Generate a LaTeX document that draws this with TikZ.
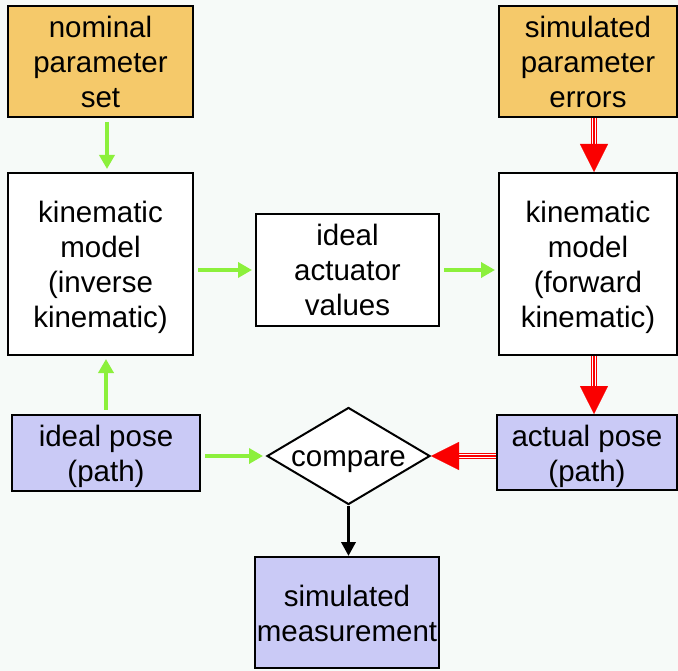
\documentclass[tikz,border=0pt]{standalone}
\usepackage{fontspec}
\setmainfont{Liberation Sans}
\usetikzlibrary{arrows.meta,shapes.geometric}
\definecolor{bgpaper}{RGB}{246,250,248}
\definecolor{paramfill}{RGB}{245,201,106}
\definecolor{posefill}{RGB}{202,202,246}
\definecolor{flowgreen}{RGB}{140,240,60}
\definecolor{errred}{RGB}{250,0,0}
% centred block of lines, set a little below the middle of its box
\newcommand{\lbl}[1]{\raisebox{-4pt}[\height][\depth]{\begin{tabular}{@{}c@{}}#1\end{tabular}}}
\tikzset{
  labelfont/.style={font=\fontsize{29.5}{35}\selectfont},
  box/.style={draw=black, line width=2pt, rectangle, inner sep=0pt, labelfont},
  param/.style={box, fill=paramfill},
  model/.style={box, fill=white},
  pose/.style={box, fill=posefill},
  greenflow/.style={draw=flowgreen, line width=4.5pt, shorten <=4pt, shorten >=3pt,
    -{Triangle[width=15pt,length=14pt]}},
  blackflow/.style={draw=black, line width=3.5pt,
    -{Triangle[width=14pt,length=14pt]}},
  redtrack/.style={draw=errred, line width=1.1pt, shorten >=26pt},
  redtrackouter/.style={redtrack, double=white, double distance=4.6pt},
  redhead/.style={draw=errred, line width=0.1pt, -{Triangle[width=28pt,length=28pt]}}
}
\newcommand{\errorflow}[2]{%
  \draw[redtrackouter] #1 -- #2;
  \draw[redtrack] #1 -- #2;
  \draw[redhead] #1 -- #2;}
\begin{document}
\begin{tikzpicture}[x=1pt,y=-1pt]
  \fill[bgpaper] (0,0) rectangle (678,671);
  \useasboundingbox (0,0) rectangle (678,671);

  % parameter inputs
  \node[param, minimum width=185pt, minimum height=111pt] (nom) at (100.5,61.5)
    {\lbl{nominal\\parameter\\set}};
  \node[param, minimum width=178pt, minimum height=111pt] (err) at (588,61.5)
    {\lbl{simulated\\parameter\\errors}};

  % kinematic models and actuator values
  \node[model, minimum width=185pt, minimum height=182pt] (inv) at (100.5,264)
    {\lbl{kinematic\\model\\(inverse\\kinematic)}};
  \node[model, minimum width=183pt, minimum height=112pt] (act) at (347.5,270)
    {\lbl{ideal\\actuator\\values}};
  \node[model, minimum width=178pt, minimum height=182pt] (fwd) at (588,264)
    {\lbl{kinematic\\model\\(forward\\kinematic)}};

  % poses and comparison
  \node[pose, minimum width=188pt, minimum height=76pt] (ipose) at (106,452.5)
    {\lbl{ideal pose\\(path)}};
  \node[pose, minimum width=180pt, minimum height=75pt] (apose) at (587,452.5)
    {\lbl{actual pose\\(path)}};
  \node[diamond, draw=black, line width=2pt, fill=white, inner sep=0pt, aspect=1.7,
    minimum width=163pt, minimum height=97pt, labelfont]
    (cmp) at (348.5,456) {\raisebox{-10.5pt}[0pt][0pt]{compare}};
  \node[pose, minimum width=184pt, minimum height=111pt] (meas) at (347,612.5)
    {\lbl{simulated\\measurement}};

  % ideal data flow
  \draw[greenflow] ([xshift=6.5pt]nom.south) -- ([xshift=6.5pt]inv.north);
  \draw[greenflow] (inv.east |- act.west) -- (act.west);
  \draw[greenflow] (act.east) -- (act.east -| fwd.west);
  \draw[greenflow] (ipose.north) -- (ipose.north |- inv.south);
  \draw[greenflow] (ipose.east |- cmp.west) -- (cmp.west);

  % error propagation
  \coordinate (errout) at ([xshift=6pt]err.south);
  \coordinate (fwdin) at ([xshift=6pt]fwd.north);
  \coordinate (fwdout) at ([xshift=6pt]fwd.south);
  \coordinate (aposein) at ([xshift=7pt]apose.north);
  \coordinate (aposeout) at (apose.west |- cmp.east);
  \errorflow{(errout)}{(fwdin)}
  \errorflow{(fwdout)}{(aposein)}
  \errorflow{(aposeout)}{(cmp.east)}

  % result
  \draw[blackflow] (cmp.south) -- (cmp.south |- meas.north);
\end{tikzpicture}
\end{document}
